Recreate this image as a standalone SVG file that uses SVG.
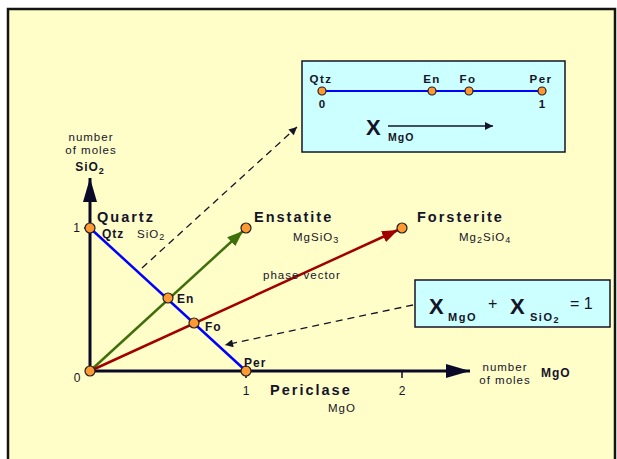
<svg xmlns="http://www.w3.org/2000/svg" width="617" height="459" viewBox="0 0 617 459">
<style>
text{font-family:"Liberation Sans",Arial,sans-serif;fill:#141428}
.b{font-weight:bold}
.ls{letter-spacing:1px}
.t{font-size:14.5px;font-weight:bold;letter-spacing:2px}
.s{font-size:11.5px;letter-spacing:1px}
.pt{fill:#FF9933;stroke:#202020;stroke-width:1.2}
.ax{stroke:#0a0a28;stroke-width:3;fill:none}
.box{fill:#CCFFFF;stroke:#141428;stroke-width:1.5}
.dash{stroke:#141428;stroke-width:1.3;fill:none;stroke-dasharray:7,5}
</style>
<defs>
<marker id="ah" viewBox="0 0 10 10" refX="10" refY="5" markerWidth="10" markerHeight="8" orient="auto" markerUnits="userSpaceOnUse"><path d="M0,0 L10,5 L0,10 z" fill="#141428"/></marker>
<marker id="axh" viewBox="0 0 24 14" refX="24" refY="7" markerWidth="24" markerHeight="14" orient="auto" markerUnits="userSpaceOnUse"><path d="M0,0 L24,7 L0,14 z" fill="#0a0a28"/></marker>
<marker id="gh" viewBox="0 0 16 12" refX="16" refY="6" markerWidth="16" markerHeight="12" orient="auto" markerUnits="userSpaceOnUse"><path d="M0,0 L16,6 L0,12 z" fill="#3f6f0a"/></marker>
<marker id="rh" viewBox="0 0 16 12" refX="16" refY="6" markerWidth="16" markerHeight="12" orient="auto" markerUnits="userSpaceOnUse"><path d="M0,0 L16,6 L0,12 z" fill="#a00000"/></marker>
</defs>
<rect x="8" y="9" width="607" height="460" fill="#FFFDC8" stroke="#141410" stroke-width="2.5"/>

<g id="connectors">
<line class="ax" x1="90" y1="371" x2="90" y2="178" marker-end="url(#axh)"/>
<line class="ax" x1="90" y1="371" x2="470" y2="371" marker-end="url(#axh)"/>
<line x1="246" y1="371" x2="246" y2="378" stroke="#0a0a28" stroke-width="1.5"/>
<line x1="402" y1="371" x2="402" y2="378" stroke="#0a0a28" stroke-width="1.5"/>
<line x1="84" y1="228" x2="90" y2="228" stroke="#0a0a28" stroke-width="1.5"/>
<line x1="90" y1="228" x2="246" y2="371" stroke="#0000FF" stroke-width="2.5"/>
<line x1="90" y1="371" x2="243" y2="231" stroke="#3f6f0a" stroke-width="2.5" marker-end="url(#gh)"/>
<line x1="90" y1="371" x2="398" y2="230" stroke="#a00000" stroke-width="2.5" marker-end="url(#rh)"/>
<line class="dash" x1="142" y1="268" x2="297" y2="127" marker-end="url(#ah)"/>
<line class="dash" x1="413" y1="305" x2="225" y2="345" marker-end="url(#ah)"/>
</g>

<g id="yaxis-label">
<text x="91" y="141" text-anchor="middle" class="s">number</text>
<text x="91" y="154" text-anchor="middle" class="s">of moles</text>
<text x="90" y="171" font-size="12" text-anchor="middle" class="b ls">SiO<tspan font-size="9" dy="3">2</tspan></text>
<text x="80" y="232" font-size="12" text-anchor="end">1</text>
<text x="77" y="382" font-size="12" text-anchor="middle">0</text>
<text x="246" y="395" font-size="12" text-anchor="middle">1</text>
<text x="402" y="395" font-size="12" text-anchor="middle">2</text>
</g>

<g id="xaxis-label">
<text x="505" y="371" text-anchor="middle" class="s">number</text>
<text x="505" y="384" text-anchor="middle" class="s">of moles</text>
<text x="541" y="377" font-size="12" class="b ls">MgO</text>
</g>

<g id="quartz">
<circle class="pt" cx="90" cy="228" r="5"/>
<text x="97" y="222" class="t">Quartz</text>
<text x="102" y="238" font-size="12" class="b ls">Qtz</text>
<text x="137" y="238" class="s">SiO<tspan font-size="9" dy="2">2</tspan></text>
</g>

<g id="origin"><circle class="pt" cx="90" cy="371" r="5"/></g>

<g id="enstatite">
<circle class="pt" cx="246" cy="228" r="5"/>
<text x="254" y="222" class="t">Enstatite</text>
<text x="293" y="241" class="s">MgSiO<tspan font-size="9" dy="2">3</tspan></text>
</g>

<g id="forsterite">
<circle class="pt" cx="402" cy="228" r="5"/>
<text x="417" y="222" class="t">Forsterite</text>
<text x="459" y="241" class="s">Mg<tspan font-size="9" dy="2">2</tspan><tspan dy="-2">SiO</tspan><tspan font-size="9" dy="2">4</tspan></text>
</g>

<g id="periclase">
<circle class="pt" cx="246" cy="371" r="5"/>
<text x="244" y="367" font-size="12" class="b ls">Per</text>
<text x="270" y="395" class="t">Periclase</text>
<text x="328" y="412" class="s">MgO</text>
</g>

<g id="en-point">
<circle class="pt" cx="168" cy="298" r="5"/>
<text x="177" y="303" font-size="12" class="b ls">En</text>
</g>

<g id="fo-point">
<circle class="pt" cx="194" cy="323" r="5"/>
<text x="205" y="331" font-size="12" class="b ls">Fo</text>
</g>

<g id="phase-vector-label">
<text x="263" y="279" class="s">phase vector</text>
</g>

<g id="xmgo-box">
<rect class="box" x="302" y="61" width="263" height="91"/>
<line x1="322" y1="91" x2="542" y2="91" stroke="#0000FF" stroke-width="1.8"/>
<circle class="pt" cx="322" cy="91" r="4"/>
<circle class="pt" cx="432" cy="91" r="4"/>
<circle class="pt" cx="469" cy="91" r="4"/>
<circle class="pt" cx="542" cy="91" r="4"/>
<text x="321" y="83" font-size="11.5" text-anchor="middle" class="b" letter-spacing="1.5">Qtz</text>
<text x="432" y="83" font-size="11.5" text-anchor="middle" class="b" letter-spacing="1.5">En</text>
<text x="468" y="83" font-size="11.5" text-anchor="middle" class="b" letter-spacing="1.5">Fo</text>
<text x="541" y="83" font-size="11.5" text-anchor="middle" class="b" letter-spacing="1.5">Per</text>
<text x="322" y="108" font-size="11.5" text-anchor="middle" class="b">0</text>
<text x="542" y="108" font-size="11.5" text-anchor="middle" class="b">1</text>
<text x="366" y="135" font-size="22" class="b">X</text>
<text x="388" y="141" font-size="10.5" class="b ls">MgO</text>
<line x1="388" y1="126" x2="493" y2="126" stroke="#141428" stroke-width="1.5" marker-end="url(#ah)"/>
</g>

<g id="equation-box">
<rect class="box" x="415" y="280" width="195" height="47"/>
<text x="429" y="314" font-size="22" class="b">X</text>
<text x="448" y="321" font-size="11" class="b" letter-spacing="1.5">MgO</text>
<text x="488" y="309" font-size="16">+</text>
<text x="510" y="314" font-size="22" class="b">X</text>
<text x="530" y="321" font-size="11" class="b" letter-spacing="1.5">SiO<tspan font-size="9" dy="2">2</tspan></text>
<text x="570" y="309" font-size="16">= 1</text>
</g>
</svg>
